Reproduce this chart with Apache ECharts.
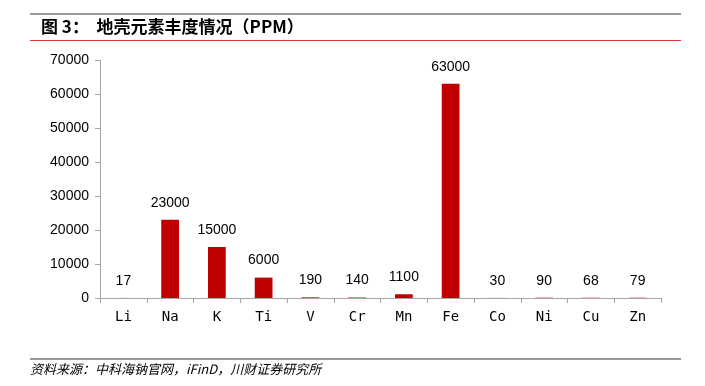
<!DOCTYPE html>
<html><head><meta charset="utf-8">
<script src="https://cdn.jsdelivr.net/npm/echarts@6/dist/echarts.min.js"></script>
<style>html,body{margin:0;padding:0;background:#fff}#c{width:705px;height:386px}</style>
</head><body><div id="c"></div>
<script>
var categories = ['Li','Na','K','Ti','V','Cr','Mn','Fe','Co','Ni','Cu','Zn'];
var values = [17,23000,15000,6000,190,140,1100,63000,30,90,68,79];
var yTicks = {min:0, max:70000, interval:10000};
var titleText = '图 3：  地壳元素丰度情况（PPM）';
var sourceText = '资料来源：中科海钠官网，iFinD，川财证券研究所';

var chart = echarts.init(document.getElementById('c'), null, {renderer:'canvas'});
chart.setOption({
  animation:false,
  backgroundColor:'#fff',
  grid:{left:100, right:44, top:60, bottom:88, containLabel:false},
  xAxis:{
    type:'category', data:categories,
    axisLine:{lineStyle:{color:'#a6a6a6', width:1}},
    axisTick:{show:true, alignWithLabel:false, length:5, lineStyle:{color:'#a6a6a6'}},
    axisLabel:{color:'#000', fontSize:14, fontFamily:'DejaVu Sans Mono', margin:12}
  },
  yAxis:{
    type:'value', min:yTicks.min, max:yTicks.max, interval:yTicks.interval,
    axisLine:{show:true, lineStyle:{color:'#a6a6a6', width:1}},
    axisTick:{show:true, length:5, lineStyle:{color:'#a6a6a6'}},
    splitLine:{show:false},
    axisLabel:{color:'#000', fontSize:14, fontFamily:'Liberation Sans', margin:11,
      formatter:function(v){return String(v);}}
  },
  series:[{
    type:'bar', data:values, barWidth:'38%',
    itemStyle:{color:'#c00000'},
    label:{show:true, position:'top', distance:10, color:'#000', fontSize:14, fontFamily:'Liberation Sans'}
  }],
  graphic:[
    {type:'rect', shape:{x:30, y:13, width:651, height:2}, style:{fill:'#999'}},
    {type:'text', left:41, top:18, style:{text:titleText, font:'bold 17px "Noto Sans CJK SC"', fill:'#000'}},
    {type:'rect', shape:{x:30, y:40, width:651, height:1}, style:{fill:'#d9383a'}},
    {type:'rect', shape:{x:30, y:358, width:651, height:2}, style:{fill:'#999'}},
    {type:'text', left:30, top:363, style:{text:sourceText, font:'italic 13px "Noto Sans CJK SC"', fill:'#000'}}
  ]
});
</script></body></html>
